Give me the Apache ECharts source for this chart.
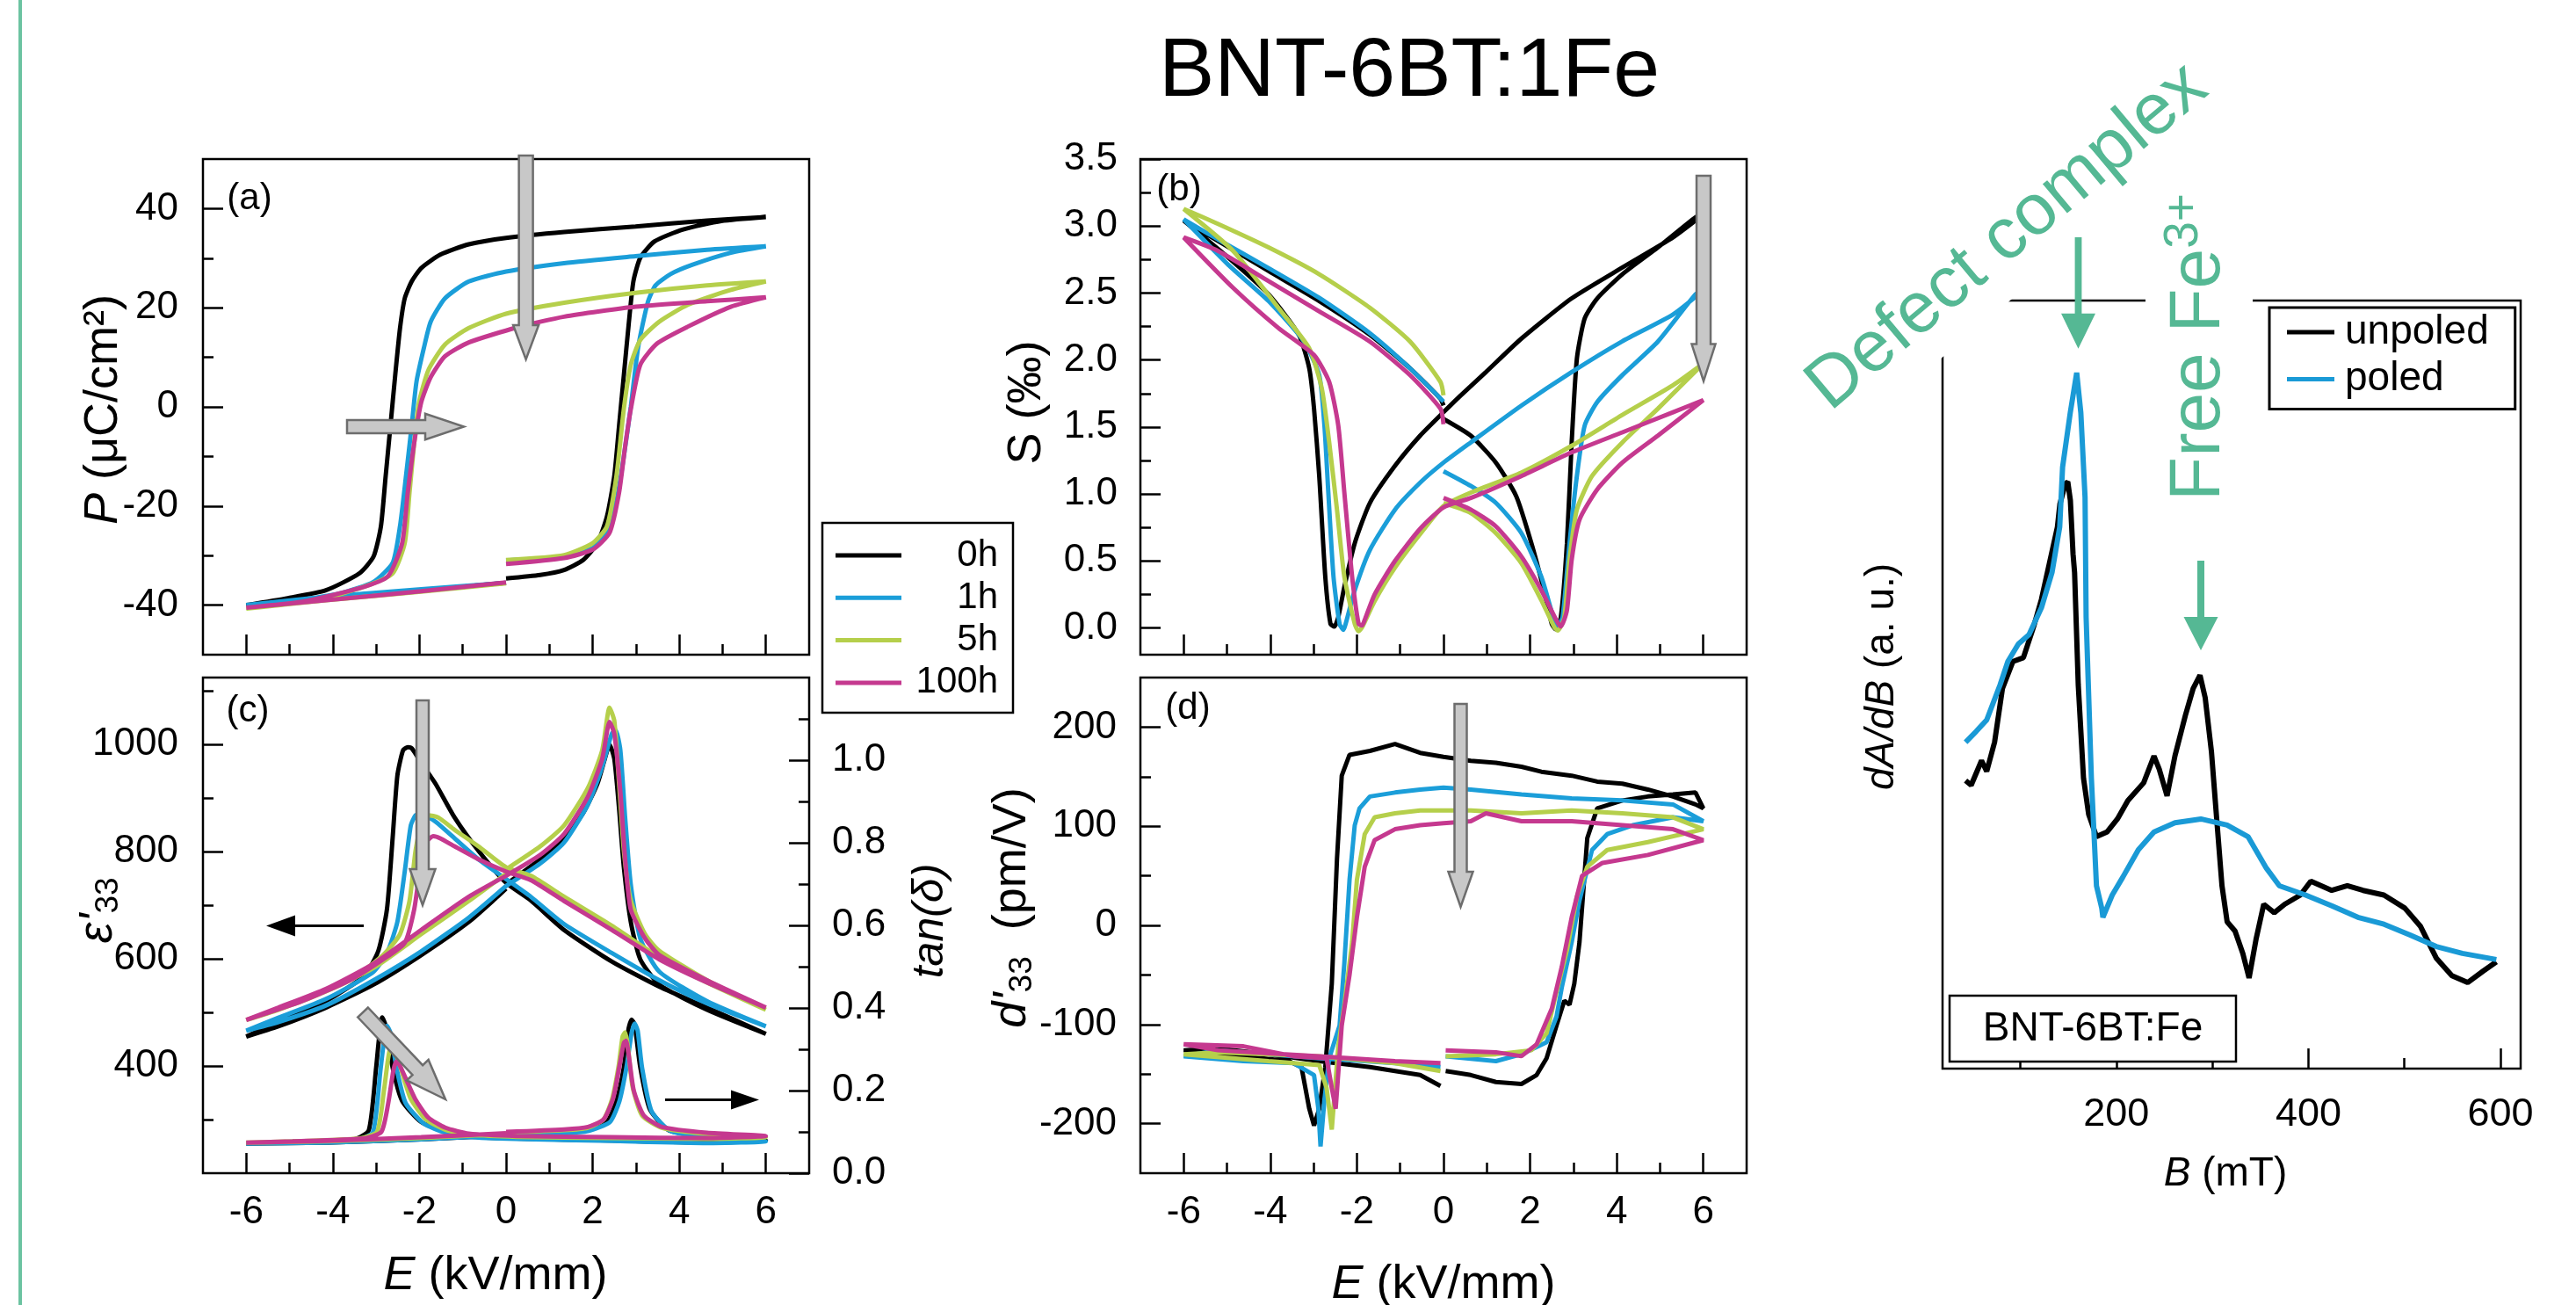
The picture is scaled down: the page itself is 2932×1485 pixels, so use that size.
<!DOCTYPE html>
<html><head><meta charset="utf-8">
<script src="https://cdn.jsdelivr.net/npm/echarts@6/dist/echarts.min.js"></script>
<style>html,body{margin:0;padding:0;background:#fff}#c{width:2932px;height:1485px}</style>
</head><body><div id="c"></div>
<script>
// ---------------- DATA ----------------
const NAMES = ['0h', '1h', '5h', '100h'];
// (a) P (uC/cm2) vs E (kV/mm): loop 0 -> 6 -> -6 -> 0
const P_0h = [[0,-34.6],[0.79,-33.9],[1.34,-32.9],[1.78,-30.9],[2.11,-27.5],[2.33,-22.1],[2.5,-13.9],[2.61,-3.8],[2.72,6.4],[2.83,16.5],[2.94,25.3],[3.1,30.1],[3.43,33.4],[4.09,35.8],[4.97,37.5],[6,38.3],[4.64,37.6],[2.99,36.4],[1.34,35.3],[0,34.1],[-0.86,32.8],[-1.52,30.7],[-1.96,28],[-2.18,25.3],[-2.34,21.9],[-2.45,15.8],[-2.56,6.4],[-2.67,-3.8],[-2.78,-13.9],[-2.89,-24.1],[-3.06,-30.2],[-3.39,-33.6],[-4.16,-37],[-5.04,-38.6],[-6,-40],[-4.16,-38.4],[-1.96,-37],[0,-35.5]];
const P_1h = [[0,-31],[1.34,-30.2],[2,-28.5],[2.33,-25.4],[2.55,-19],[2.72,-10],[2.88,0],[3.05,12],[3.27,21],[3.45,24.5],[3.8,26.8],[4.31,28.7],[5.19,31.1],[6,32.4],[4.64,31.7],[2.99,30.4],[1.34,29],[0,27.3],[-0.86,25.3],[-1.41,21.9],[-1.74,17.2],[-1.9,11.8],[-2.07,5],[-2.18,-3.8],[-2.31,-13.9],[-2.45,-24.1],[-2.62,-31.5],[-3.06,-35.3],[-3.83,-37.6],[-4.93,-39.1],[-6,-40],[-4.16,-38.3],[-1.96,-36.8],[0,-35.5]];
const P_5h = [[0,-30.9],[1.34,-29.9],[2,-27.5],[2.33,-24.1],[2.55,-13.9],[2.72,-0.4],[2.88,8.5],[3.1,13.5],[3.54,17.2],[4.2,20.6],[5.19,23.6],[6,25.3],[4.64,24.5],[2.99,23],[1.34,21],[0,18.8],[-0.86,15.9],[-1.41,12.6],[-1.79,7.5],[-2.01,0.9],[-2.12,-7.2],[-2.23,-17.3],[-2.34,-27.5],[-2.62,-33.6],[-3.28,-36.3],[-4.38,-39],[-6,-40.7],[-4.16,-39],[-1.96,-37.3],[0,-35.6]];
const P_100h = [[0,-31.7],[1.34,-30.5],[2,-28.8],[2.39,-25.4],[2.61,-17.3],[2.75,-8],[2.88,-0.5],[3.1,8.5],[3.49,12.8],[4.2,16.2],[5.19,20.2],[6,22.1],[4.64,21.3],[2.99,20.2],[1.34,18.2],[0.24,16],[-0.86,13],[-1.41,10.2],[-1.74,6],[-1.96,0.9],[-2.12,-7.2],[-2.27,-17.3],[-2.4,-27.5],[-2.73,-34.2],[-3.39,-36.6],[-4.71,-39.3],[-6,-40.5],[-4.16,-39],[-1.96,-37.2],[0,-35.4]];
// (b) S (permille) vs E
const S_0h = [[0,1.56],[0.63,1.435],[1.21,1.234],[1.68,0.983],[2.03,0.632],[2.32,0.281],[2.5,0.03],[2.59,-0.01],[2.71,0.08],[2.85,0.632],[2.96,1.385],[3.08,2.01],[3.26,2.31],[3.55,2.46],[4.13,2.64],[4.95,2.84],[5.82,3.066],[6,3.086],[5.3,2.915],[4.13,2.69],[2.96,2.46],[1.8,2.16],[0.98,1.91],[0.4,1.736],[0,1.61],[-0.54,1.435],[-1.12,1.21],[-1.7,0.933],[-2.05,0.632],[-2.29,0.306],[-2.43,0.08],[-2.52,0.01],[-2.61,0.03],[-2.73,0.38],[-2.87,1.134],[-2.99,1.636],[-3.1,1.937],[-3.34,2.188],[-4.04,2.49],[-4.97,2.765],[-6,3.04],[-5.21,2.89],[-4.04,2.664],[-2.87,2.44],[-1.7,2.188],[-0.77,1.937],[-0.07,1.71],[0,1.66]];
const S_1h = [[0,1.17],[0.63,1.06],[1.21,0.933],[1.8,0.707],[2.26,0.381],[2.56,0.055],[2.64,0.018],[2.75,0.08],[2.91,0.632],[3.08,1.134],[3.26,1.51],[3.55,1.686],[4.13,1.887],[4.95,2.137],[5.82,2.49],[6,2.52],[5.3,2.34],[4.13,2.14],[2.96,1.91],[1.8,1.66],[0.63,1.385],[0,1.234],[-0.54,1.084],[-1.12,0.883],[-1.7,0.582],[-2.05,0.281],[-2.26,0.03],[-2.31,-0.015],[-2.4,0.03],[-2.54,0.38],[-2.66,1.01],[-2.75,1.51],[-2.87,1.887],[-3.22,2.137],[-4.04,2.44],[-4.97,2.71],[-6,3.05],[-5.21,2.9],[-4.04,2.686],[-2.87,2.464],[-1.7,2.2],[-0.77,1.937],[0,1.69]];
const S_5h = [[0,0.933],[0.63,0.858],[1.21,0.707],[1.8,0.482],[2.26,0.206],[2.56,0.005],[2.64,-0.02],[2.79,0.08],[2.91,0.507],[3.08,0.883],[3.43,1.134],[4.13,1.385],[4.95,1.636],[6,1.974],[5.3,1.811],[4.13,1.59],[2.96,1.36],[1.8,1.16],[0.63,1.01],[0,0.91],[-0.54,0.7],[-1.12,0.45],[-1.59,0.2],[-1.88,0.005],[-1.96,-0.025],[-2.05,0.03],[-2.29,0.381],[-2.46,0.883],[-2.64,1.385],[-2.81,1.786],[-3.1,2.087],[-3.81,2.388],[-4.86,2.815],[-6,3.128],[-5.21,3.016],[-4.04,2.84],[-2.87,2.64],[-1.7,2.39],[-0.77,2.137],[-0.07,1.836],[0,1.736]];
const S_100h = [[0,0.97],[0.63,0.883],[1.21,0.758],[1.8,0.532],[2.26,0.281],[2.61,0.055],[2.71,0.01],[2.85,0.13],[2.96,0.507],[3.14,0.808],[3.55,1.034],[4.13,1.234],[4.95,1.435],[6,1.7],[5.3,1.61],[4.13,1.46],[2.96,1.31],[1.8,1.134],[0.63,0.97],[0,0.9],[-0.54,0.74],[-1.12,0.5],[-1.59,0.25],[-1.82,0.06],[-1.88,0.018],[-1.96,0.03],[-2.11,0.381],[-2.29,1.01],[-2.43,1.51],[-2.64,1.836],[-2.99,2.037],[-3.81,2.238],[-4.86,2.539],[-6,2.915],[-5.21,2.815],[-4.04,2.589],[-2.87,2.363],[-1.7,2.137],[-0.77,1.886],[-0.07,1.636],[0,1.52]];
// (c) eps'33 vs E (left axis)
const EPS_0h = [[0,739],[0.79,786],[1.34,825],[1.78,872],[2.11,927],[2.28,973],[2.39,1000],[2.5,973],[2.61,880],[2.72,771],[2.88,669],[3.1,599],[3.54,552],[4.64,505],[6,460],[4.64,509],[3.54,548],[2.44,595],[1.34,654],[0.57,709],[0,742],[-0.64,802],[-1.19,864],[-1.63,927],[-1.96,966],[-2.18,993],[-2.27,995],[-2.38,989],[-2.51,942],[-2.62,825],[-2.75,693],[-2.95,615],[-3.28,568],[-4.16,521],[-5.26,482],[-6,455],[-5.26,474],[-4.16,509],[-3.06,552],[-1.96,607],[-0.86,669],[-0.2,716],[0,731]];
const EPS_1h = [[0,736],[0.79,778],[1.34,817],[1.89,888],[2.22,958],[2.44,1020],[2.53,1027],[2.64,989],[2.75,864],[2.88,739],[3.1,638],[3.54,576],[4.64,521],[6,474],[4.64,517],[3.54,560],[2.44,611],[1.34,665],[0.57,716],[0,749],[-0.64,786],[-1.19,825],[-1.63,856],[-1.96,870],[-2.09,868],[-2.2,849],[-2.34,763],[-2.51,669],[-2.73,615],[-3.06,576],[-4.16,525],[-5.26,490],[-6,466],[-5.26,482],[-4.16,513],[-3.06,560],[-1.96,614],[-0.86,677],[0,736]];
const EPS_5h = [[0,767],[0.79,810],[1.34,849],[1.89,919],[2.22,989],[2.39,1069],[2.5,1044],[2.61,927],[2.72,802],[2.88,709],[3.21,646],[3.54,615],[4.64,560],[6,505],[4.64,556],[3.54,603],[2.44,662],[1.34,716],[0.57,755],[0,771],[-0.64,810],[-1.19,841],[-1.57,864],[-1.79,868],[-1.96,849],[-2.09,802],[-2.23,708],[-2.45,646],[-2.84,607],[-3.61,560],[-4.71,521],[-6,486],[-5.26,505],[-4.16,540],[-3.06,583],[-1.96,646],[-0.86,708],[0,759]];
const EPS_100h = [[0,755],[0.79,794],[1.34,833],[1.89,903],[2.22,973],[2.39,1042],[2.5,1020],[2.64,911],[2.75,786],[2.88,692],[3.21,638],[3.54,607],[4.64,560],[6,509],[4.64,556],[3.54,599],[2.44,654],[1.34,708],[0.57,747],[0,763],[-0.64,786],[-1.19,810],[-1.52,825],[-1.68,829],[-1.85,817],[-1.98,771],[-2.12,693],[-2.34,630],[-2.84,599],[-3.61,560],[-4.71,521],[-6,486],[-5.26,509],[-4.16,544],[-3.06,591],[-1.96,654],[-0.86,716],[0,755]];
// (c) tan(delta) vs E (right axis)
const TAN_0h = [[0,0.094],[1.34,0.099],[1.89,0.104],[2.33,0.124],[2.55,0.175],[2.72,0.256],[2.83,0.35],[2.9,0.372],[2.97,0.36],[3.1,0.256],[3.32,0.155],[3.76,0.104],[4.64,0.089],[6,0.079],[4.64,0.074],[2.44,0.079],[0.24,0.084],[-0.86,0.089],[-1.4,0.1],[-1.96,0.124],[-2.4,0.175],[-2.62,0.256],[-2.78,0.357],[-2.86,0.377],[-2.93,0.33],[-3,0.256],[-3.17,0.104],[-3.5,0.082],[-4.93,0.076],[-6,0.072],[-4.16,0.074],[-1.96,0.082],[0,0.092]];
const TAN_1h = [[0,0.092],[1.34,0.097],[1.89,0.102],[2.4,0.124],[2.62,0.175],[2.78,0.256],[2.9,0.34],[2.97,0.362],[3.04,0.345],[3.14,0.256],[3.36,0.15],[3.8,0.102],[4.64,0.087],[6,0.077],[4.64,0.073],[2.44,0.078],[0.24,0.083],[-0.86,0.088],[-1.4,0.098],[-1.9,0.12],[-2.32,0.17],[-2.52,0.25],[-2.67,0.34],[-2.75,0.357],[-2.82,0.32],[-2.9,0.25],[-3.07,0.1],[-3.4,0.082],[-4.93,0.076],[-6,0.072],[-4.16,0.074],[-1.96,0.082],[0,0.092]];
const TAN_5h = [[0,0.098],[1.34,0.104],[1.89,0.11],[2.25,0.13],[2.45,0.18],[2.6,0.26],[2.69,0.33],[2.75,0.341],[2.81,0.31],[2.92,0.21],[3.14,0.14],[3.6,0.11],[4.64,0.095],[6,0.087],[4.64,0.083],[2.44,0.085],[0.24,0.088],[-0.86,0.094],[-1.4,0.105],[-1.85,0.13],[-2.2,0.18],[-2.42,0.25],[-2.58,0.3],[-2.65,0.31],[-2.72,0.28],[-2.82,0.2],[-2.98,0.1],[-3.4,0.084],[-4.93,0.077],[-6,0.074],[-4.16,0.077],[-1.96,0.085],[0,0.095]];
const TAN_100h = [[0,0.1],[1.34,0.106],[1.89,0.112],[2.25,0.13],[2.47,0.18],[2.62,0.26],[2.72,0.315],[2.77,0.321],[2.84,0.28],[2.95,0.2],[3.18,0.14],[3.6,0.112],[4.64,0.098],[6,0.09],[4.64,0.085],[2.44,0.087],[0.24,0.09],[-0.86,0.096],[-1.4,0.11],[-1.8,0.135],[-2.1,0.18],[-2.32,0.23],[-2.46,0.262],[-2.53,0.271],[-2.6,0.25],[-2.72,0.17],[-2.88,0.1],[-3.3,0.084],[-4.93,0.077],[-6,0.074],[-4.16,0.078],[-1.96,0.087],[0,0.097]];
// (d) d'33 (pm/V) vs E
const D_0h = [[0.05,-147],[0.63,-151],[1.21,-158],[1.8,-160],[2.15,-151],[2.38,-134],[2.61,-101],[2.79,-76],[2.91,-80],[3.02,-59],[3.14,-17],[3.32,88],[3.55,118],[4.13,126],[4.72,130],[5.3,132],[5.82,134],[6,118],[5.82,122],[5.3,130],[4.72,137],[4.13,143],[3.55,145],[2.96,151],[2.26,155],[1.8,160],[1.21,164],[0.63,166],[0,170],[-0.54,174],[-1.12,183],[-1.7,176],[-2.17,172],[-2.35,151],[-2.46,67],[-2.58,-59],[-2.73,-143],[-2.87,-185],[-2.99,-202],[-3.1,-185],[-3.28,-143],[-3.57,-137],[-4.62,-132],[-6,-126],[-5.21,-124],[-4.04,-130],[-2.87,-137],[-1.7,-143],[-0.54,-151],[-0.07,-162]];
const D_1h = [[0.05,-132],[1.21,-137],[1.8,-130],[2.38,-118],[2.61,-92],[2.73,-63],[2.96,-17],[3.14,25],[3.43,76],[3.78,92],[4.37,101],[5.3,109],[6,105],[5.3,122],[4.13,126],[2.96,128],[1.8,132],[0.63,137],[0,139],[-0.54,137],[-1.12,134],[-1.7,130],[-1.94,118],[-2.05,101],[-2.17,46],[-2.29,-38],[-2.4,-101],[-2.64,-134],[-2.75,-176],[-2.84,-223],[-2.89,-185],[-2.99,-151],[-3.46,-139],[-4.62,-137],[-6,-132],[-5.21,-126],[-2.87,-134],[-1.12,-139],[-0.07,-143]];
const D_5h = [[0.05,-132],[1.21,-130],[2.03,-126],[2.38,-109],[2.61,-67],[2.85,-25],[3.08,29],[3.32,59],[3.78,76],[4.72,84],[6,97],[5.3,109],[4.13,113],[2.96,116],[1.8,113],[0.63,116],[0,116],[-0.54,116],[-1.12,113],[-1.59,109],[-1.82,92],[-2,46],[-2.11,-17],[-2.29,-80],[-2.43,-122],[-2.58,-206],[-2.7,-164],[-2.87,-141],[-4.04,-137],[-6,-130],[-5.21,-128],[-2.87,-132],[-1.12,-139],[-0.07,-147]];
const D_100h = [[0.05,-126],[1.21,-128],[1.8,-132],[2.15,-120],[2.5,-84],[2.73,-42],[2.96,8],[3.2,50],[3.67,63],[4.72,71],[6,86],[5.3,97],[4.13,101],[2.96,105],[1.8,105],[0.98,113],[0.63,105],[0,103],[-0.54,101],[-1.12,97],[-1.59,86],[-1.82,59],[-2,8],[-2.17,-50],[-2.35,-101],[-2.49,-185],[-2.58,-164],[-2.7,-134],[-3.46,-132],[-4.62,-122],[-6,-120],[-5.21,-126],[-2.87,-132],[-1.12,-137],[-0.07,-139]];
// EPR dA/dB (a.u.) vs B (mT)
const EPR_unpoled = [[43,37.5],[48.8,36.9],[59.6,40.1],[65,38.7],[73.2,42.5],[81.4,49.5],[92.3,53],[103.2,53.5],[114,57.6],[122,61.1],[130.3,65.8],[138.6,70.5],[141.2,73.5],[146.7,76.1],[149.4,76.4],[152.1,74],[154.9,67],[156.5,64.6],[160.3,50],[165.8,37.8],[171.2,33.1],[179.3,30.2],[190.2,30.8],[201.1,32.5],[212,34.9],[228.4,37.2],[239.2,40.7],[244.6,39],[252.8,35.5],[261,40.7],[271.9,46],[280,49.5],[287.1,51.2],[292.5,48.3],[299,41.3],[304.5,32.5],[310,23.8],[315.4,19.1],[323.6,17.9],[331.7,15],[338.2,11.8],[345.4,16.8],[353.5,21.4],[364.4,20.3],[375.3,21.4],[391.6,22.6],[402.5,24.4],[424.3,23.2],[440.5,23.8],[456.9,23.2],[478.6,22.6],[500.4,20.9],[516.8,18.5],[533.1,14.4],[549.4,12.1],[565.8,11.2],[582,12.7],[595.7,13.9]];
const EPR_poled = [[43,42.5],[54,43.9],[65,45.4],[79,50],[87,53],[98,55.3],[109,56.5],[122,60],[133,64.6],[141,70.5],[144,78.3],[152,85.4],[158.7,90.6],[163,85.4],[167.4,74.4],[168.5,58.8],[174,37.8],[179.3,23.8],[184.8,20.9],[186,19.7],[195.7,22.6],[206.6,24.9],[222.9,28.5],[239.2,30.8],[261,32],[288,32.5],[315.3,31.7],[337.1,30.2],[356.2,26.1],[369.8,23.8],[397,22.6],[424.3,21.2],[451.5,19.7],[478.7,18.8],[505.9,17.4],[533.1,15.9],[560.3,15],[595.7,14.2]];
// tick values
const E_MAJOR = [-6, -4, -2, 0, 2, 4, 6], E_MINOR = [-5, -3, -1, 1, 3, 5];
const P_MAJOR = [-40, -20, 0, 20, 40], P_MINOR = [-30, -10, 10, 30];
const S_MAJOR = [0, 0.5, 1, 1.5, 2, 2.5, 3, 3.5], S_MINOR = [0.25, 0.75, 1.25, 1.75, 2.25, 2.75, 3.25];
const EPS_MAJOR = [400, 600, 800, 1000], EPS_MINOR = [300, 500, 700, 900, 1100];
const TAN_MAJOR = [0, 0.2, 0.4, 0.6, 0.8, 1.0], TAN_MINOR = [0.1, 0.3, 0.5, 0.7, 0.9, 1.1];
const D_MAJOR = [-200, -100, 0, 100, 200], D_MINOR = [-150, -50, 50, 150];
const B_MAJOR = [200, 400, 600], B_MINOR = [100, 300, 500];

// ---------------- STYLE / LAYOUT ----------------
const FONT = "'Liberation Sans', Arial, Helvetica, sans-serif";
const COLORS = ['#000000', '#1b9ed9', '#b5cf4b', '#c5398f'];
const GREEN = '#55b894';
const GRIDS = [[231, 181, 690, 564], [1298, 181, 690, 564], [231, 771, 690, 564], [1298, 771, 690, 564], [2211, 342, 658, 874]];
const TICK = { color: '#000', width: 2.5 };
const TICK_FS = 44;
const int = v => String(Math.round(v));
const dec1 = v => (Math.round(v * 10) / 10).toFixed(1);

function axes(gridIndex, position, min, max, major, minor, labels, fmt, labelOpt) {
  const base = { type: 'value', gridIndex, position, offset: 0, min, max, silent: true,
    axisLine: { show: false, onZero: false }, splitLine: { show: false }, axisPointer: { show: false } };
  const main = Object.assign({}, base, {
    axisTick: { show: major.length > 0, inside: true, length: 23, lineStyle: TICK, customValues: major },
    axisLabel: Object.assign({ show: labels.length > 0, customValues: labels, formatter: fmt, color: '#000',
      fontFamily: FONT, fontSize: TICK_FS, margin: 27 }, labelOpt || {})
  });
  const sub = Object.assign({}, base, {
    axisTick: { show: minor.length > 0, inside: true, length: 12, lineStyle: TICK, customValues: minor },
    axisLabel: { show: false }
  });
  return [main, sub];
}

const xAxis = [
  ...axes(0, 'bottom', -7, 7, E_MAJOR, E_MINOR, [], int),
  ...axes(1, 'bottom', -7, 7, E_MAJOR, E_MINOR, [], int),
  ...axes(2, 'bottom', -7, 7, E_MAJOR, E_MINOR, E_MAJOR, int, { margin: 23 }),
  ...axes(3, 'bottom', -7, 7, E_MAJOR, E_MINOR, E_MAJOR, int, { margin: 23 }),
  ...axes(4, 'bottom', 19, 621, B_MAJOR, B_MINOR, B_MAJOR, int, { margin: 30, fontSize: 45 })
];
const yAxis = [
  ...axes(0, 'left', -50, 50, P_MAJOR, P_MINOR, P_MAJOR, int, { margin: 28 }),
  ...axes(1, 'left', -0.2, 3.5, S_MAJOR, S_MINOR, S_MAJOR, dec1, { margin: 26 }),
  ...axes(2, 'left', 200, 1125, EPS_MAJOR, EPS_MINOR, EPS_MAJOR, int, { margin: 28 }),
  ...axes(2, 'right', 0, 1.2, TAN_MAJOR, TAN_MINOR, TAN_MAJOR, dec1, { margin: 26 }),
  ...axes(3, 'left', -250, 250, D_MAJOR, D_MINOR, D_MAJOR, int, { margin: 27 }),
  { type: 'value', gridIndex: 4, min: 0, max: 100, show: false, axisLine: { onZero: false } }
];

const PANEL_DATA = [
  { sets: [P_0h, P_1h, P_5h, P_100h], x: 0, y: 0, smooth: 0.2 },
  { sets: [S_0h, S_1h, S_5h, S_100h], x: 2, y: 2, smooth: 0.2 },
  { sets: [EPS_0h, EPS_1h, EPS_5h, EPS_100h], x: 4, y: 4, smooth: 0.2 },
  { sets: [TAN_0h, TAN_1h, TAN_5h, TAN_100h], x: 4, y: 6, smooth: 0.2 },
  { sets: [D_0h, D_1h, D_5h, D_100h], x: 6, y: 8, smooth: false }
];
const series = [];
PANEL_DATA.forEach(p => p.sets.forEach((d, i) => series.push({
  type: 'line', name: NAMES[i], data: d, xAxisIndex: p.x, yAxisIndex: p.y, symbol: 'none', showSymbol: false,
  smooth: p.smooth, silent: true, itemStyle: { color: COLORS[i] }, lineStyle: { color: COLORS[i], width: 5 }
})));
[['unpoled', EPR_unpoled, '#000000'], ['poled', EPR_poled, '#1a9ad6']].forEach(s => series.push({
  type: 'line', name: s[0], data: s[1], xAxisIndex: 8, yAxisIndex: 10, symbol: 'none', showSymbol: false,
  silent: true, itemStyle: { color: s[2] }, lineStyle: { color: s[2], width: 6 }
}));

// ---------------- GRAPHICS (annotations) ----------------
function arrow(tail, tip, headLen, sw, hw, style) {
  const dx = tip[0] - tail[0], dy = tip[1] - tail[1], L = Math.hypot(dx, dy);
  const ux = dx / L, uy = dy / L, nx = -uy, ny = ux;
  const bx = tip[0] - ux * headLen, by = tip[1] - uy * headLen;
  const pts = [[tail[0] + nx * sw, tail[1] + ny * sw], [bx + nx * sw, by + ny * sw], [bx + nx * hw, by + ny * hw], tip,
    [bx - nx * hw, by - ny * hw], [bx - nx * sw, by - ny * sw], [tail[0] - nx * sw, tail[1] - ny * sw]];
  return { type: 'polygon', shape: { points: pts }, style, z: 100, silent: true };
}
function txt(x, y, text, size, opts, rot) {
  const st = Object.assign({ text, fontSize: size, fontFamily: FONT, fill: '#000', align: 'center', verticalAlign: 'middle' }, opts || {});
  return { type: 'text', x, y, rotation: rot || 0, style: st, z: 100, silent: true };
}
const GRAY = { fill: '#c8c8c8', stroke: '#6d6d6d', lineWidth: 2.5 };
const BLK = { fill: '#000' };
const GRN = { fill: GREEN };
const titleRich = (size) => ({
  i: { fontStyle: 'italic', fontSize: size, fontFamily: FONT, lineHeight: 60 },
  n: { fontSize: size, fontFamily: FONT, lineHeight: 60 },
  s: { fontSize: Math.round(size * 0.68), fontFamily: FONT, lineHeight: 32, verticalAlign: 'bottom' }
});
const AT = 54;
const G = [
  { type: 'rect', shape: { x: 21, y: 0, width: 4, height: 1485 }, style: { fill: '#6cc3a1' }, z: 100, silent: true },
  txt(1604, 83, 'BNT-6BT:1Fe', 95),
  // axis titles
  txt(118, 466, '{i|P}{n| (μC/cm²)}', AT, { rich: titleRich(AT) }, Math.PI / 2),
  txt(1169, 458, 'S (‰)', AT, {}, Math.PI / 2),
  txt(112, 1036, "{i|ε'}{s|33}", AT, { rich: titleRich(AT) }, Math.PI / 2),
  txt(1059, 1048, '{i|tan(δ)}', 50, { rich: titleRich(50) }, Math.PI / 2),
  txt(1152, 1033, "{i|d'}{s|33}{n|  (pm/V)}", AT, { rich: titleRich(AT) }, Math.PI / 2),
  txt(564, 1452, '{i|E}{n| (kV/mm)}', AT, { rich: titleRich(AT) }),
  txt(1643, 1462, '{i|E}{n| (kV/mm)}', AT, { rich: titleRich(AT) }),
  txt(2142, 770, '{i|dA/dB}{n| (a. u.)}', 46, { rich: titleRich(46) }, Math.PI / 2),
  txt(2533, 1336, '{i|B}{n| (mT)}', 46, { rich: titleRich(46) }),
  // panel labels
  txt(284, 226, '(a)', 42), txt(1342, 216, '(b)', 42), txt(282, 809, '(c)', 42), txt(1352, 806, '(d)', 42),
  // gray arrows
  arrow([598.6, 177], [598.6, 409], 39, 8, 14.5, GRAY),
  arrow([395, 485.5], [528, 485.5], 44, 7.5, 14.8, GRAY),
  arrow([1939, 200], [1939, 433.6], 42, 8, 13.5, GRAY),
  arrow([481, 797], [481, 1030], 41, 7, 14.5, GRAY),
  arrow([413, 1152], [507, 1251], 46, 8, 17, GRAY),
  arrow([1662.5, 801], [1662.5, 1032], 40, 7, 14, GRAY),
  // black axis-assignment arrows in (c)
  arrow([414, 1053.5], [303, 1053.5], 33, 1.5, 12, BLK),
  arrow([757, 1251.6], [864, 1251.6], 32, 1.5, 11, BLK),
  // EPR annotations
  txt(2285, 270, 'Defect complex', 82, { fill: GREEN, backgroundColor: '#fff', padding: [12, 12], lineHeight: 90 }, 40 * Math.PI / 180),
  txt(2503, 395, '{m|Free Fe}{p|3+}', 82, { fill: GREEN, backgroundColor: '#fff', padding: [16, 10],
    rich: { m: { fontSize: 82, fontFamily: FONT, fill: GREEN, lineHeight: 90 },
            p: { fontSize: 55, fontFamily: FONT, fill: GREEN, lineHeight: 60, verticalAlign: 'top' } } }, Math.PI / 2),
  arrow([2365.5, 270], [2365.5, 396.7], 40, 3.9, 19.5, GRN),
  arrow([2505, 638], [2505, 740], 38, 4, 19.5, GRN),
  { type: 'rect', shape: { x: 2219, y: 1133, width: 326, height: 75 }, style: { fill: '#fff', stroke: '#000', lineWidth: 2.5 }, z: 100, silent: true },
  txt(2382, 1171, 'BNT-6BT:Fe', 46)
];

const option = {
  animation: false,
  backgroundColor: '#fff',
  textStyle: { fontFamily: FONT },
  grid: GRIDS.map(g => ({ left: g[0], top: g[1], width: g[2], height: g[3], show: true, borderColor: '#000',
    borderWidth: 2.5, backgroundColor: 'transparent', containLabel: false, outerBoundsMode: 'none' })),
  xAxis, yAxis, series,
  legend: [
    { data: NAMES, orient: 'vertical', left: 936, top: 595, icon: 'rect', itemWidth: 75, itemHeight: 5, itemGap: 6.3,
      padding: [16, 17, 13, 15], borderColor: '#000', borderWidth: 2.5, backgroundColor: '#fff', selectedMode: false,
      formatter: '{r|{name}}', textStyle: { color: '#000', fontFamily: FONT, fontSize: 42,
        rich: { r: { width: 105, align: 'right', fontSize: 42, fontFamily: FONT, lineHeight: 48, color: '#000' } } } },
    { data: ['unpoled', 'poled'], orient: 'vertical', left: 2583, top: 350, icon: 'rect', itemWidth: 54, itemHeight: 5, itemGap: 7.6,
      padding: [5, 30, 11, 20], borderColor: '#000', borderWidth: 3, backgroundColor: '#fff', selectedMode: false,
      formatter: '{t|{name}}', textStyle: { color: '#000', fontFamily: FONT, fontSize: 46,
        rich: { t: { fontSize: 46, fontFamily: FONT, lineHeight: 50, padding: [0, 0, 0, 7], color: '#000' } } } }
  ],
  graphic: { elements: G }
};
const chart = echarts.init(document.getElementById('c'), null, { renderer: 'canvas', width: 2932, height: 1485 });
chart.setOption(option);
</script></body></html>
